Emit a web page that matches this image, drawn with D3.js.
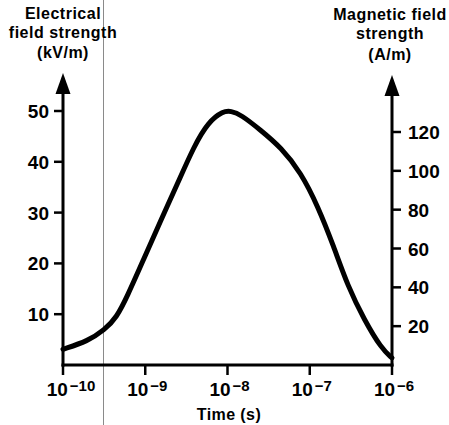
<!DOCTYPE html>
<html>
<head>
<meta charset="utf-8">
<script src="https://cdn.jsdelivr.net/npm/d3@7"></script>
<style>
	body { margin: 0; background: #fff; }
	svg text { font-family: "Liberation Sans", Arial, Helvetica, sans-serif; font-weight: bold; fill: #000; }
</style>
</head>
<body>
<svg id="chart" width="449" height="425"></svg>
<script>

// Data

var timeSeconds = [1e-10, 2e-10, 3.2e-10, 4.5e-10, 6e-10, 9.5e-10, 1.5e-9, 2.5e-9, 3.9e-9, 5.8e-9, 8.9e-9,
	1.1e-8, 1.45e-8, 2.5e-8, 4.5e-8, 7.8e-8, 1.26e-7, 1.95e-7, 2.9e-7, 4.6e-7, 7.4e-7, 1e-6];
var fieldKV = [3.1, 4.7, 6.9, 9.4, 13.4, 20.7, 28.0, 35.9, 43.0, 47.8, 50.0,
	50.0, 49.3, 46.3, 42.8, 37.9, 31.2, 23.4, 15.5, 8.9, 3.3, 1.4];

var xTicks = [1e-10, 1e-9, 1e-8, 1e-7, 1e-6];
var xTickExponents = ["\u221210", "\u22129", "\u22128", "\u22127", "\u22126"];
var leftTicks = [10, 20, 30, 40, 50];
var rightTicks = [20, 40, 60, 80, 100, 120];

var leftTitle = ["Electrical", "field strength", "(kV/m)"];
var rightTitle = ["Magnetic field", "strength", "(A/m)"];
var xTitle = "Time (s)";

// Scales

var svg = d3.select("#chart");

var x = d3.scaleLog().domain([1e-10, 1e-6]).range([63, 392]);
var yLeft = d3.scaleLinear().domain([0, 50]).range([365, 111]);
var yRight = d3.scaleLinear().domain([0, 120]).range([365, 132]);

// scan artefact: thin grey vertical line
svg.append("line")
	.attr("x1", 103.5).attr("x2", 103.5)
	.attr("y1", 0).attr("y2", 425)
	.style("stroke", "#8a8a8a")
	.style("stroke-width", 1);

// Axes

var axisStroke = 3;

// bottom axis
svg.append("line")
	.attr("x1", x.range()[0] - 1.5).attr("x2", x.range()[1] + 1.5)
	.attr("y1", 365).attr("y2", 365)
	.style("stroke", "#000").style("stroke-width", axisStroke);

svg.selectAll(".xtick")
	.data(xTicks)
	.enter().append("line")
	.attr("class", "xtick")
	.attr("x1", function (d) { return x(d); })
	.attr("x2", function (d) { return x(d); })
	.attr("y1", 365).attr("y2", 375)
	.style("stroke", "#000").style("stroke-width", 2.5);

var xLabels = svg.selectAll(".xlabel")
	.data(xTicks)
	.enter().append("text")
	.attr("class", "xlabel")
	.attr("x", function (d) { return x(d) + (d === 1e-10 ? 8 : 2); })
	.attr("y", 396)
	.attr("text-anchor", "middle")
	.style("font-size", "19px");

xLabels.append("tspan").text("10");
xLabels.append("tspan")
	.attr("dx", 2)
	.attr("dy", -5)
	.style("font-size", "15px")
	.text(function (d, i) { return xTickExponents[i]; });

svg.append("text")
	.attr("x", 229)
	.attr("y", 420)
	.attr("text-anchor", "middle")
	.style("font-size", "16px")
	.style("letter-spacing", "0.4px")
	.text(xTitle);

// vertical axes with arrowheads
function drawVerticalAxis(xPos, tipY, scale, ticks, side) {

	svg.append("line")
		.attr("x1", xPos).attr("x2", xPos)
		.attr("y1", 366.5).attr("y2", tipY + 12)
		.style("stroke", "#000").style("stroke-width", axisStroke);

	svg.append("path")
		.attr("d", "M" + xPos + "," + tipY + "L" + (xPos + 7.5) + "," + (tipY + 21) + "L" + (xPos - 7.5) + "," + (tipY + 21) + "Z")
		.style("fill", "#000");

	svg.selectAll(".tick-" + side)
		.data(ticks)
		.enter().append("line")
		.attr("class", "tick-" + side)
		.attr("x1", xPos)
		.attr("x2", xPos + (side === "left" ? -9 : 9))
		.attr("y1", function (d) { return scale(d); })
		.attr("y2", function (d) { return scale(d); })
		.style("stroke", "#000").style("stroke-width", 2.5);

	svg.selectAll(".label-" + side)
		.data(ticks)
		.enter().append("text")
		.attr("class", "label-" + side)
		.attr("x", side === "left" ? xPos - 14 : xPos + 16)
		.attr("y", function (d) { return scale(d) + 7; })
		.attr("text-anchor", side === "left" ? "end" : "start")
		.style("font-size", "19px")
		.text(function (d) { return d; });
}

drawVerticalAxis(63, 73, yLeft, leftTicks, "left");
drawVerticalAxis(392, 75, yRight, rightTicks, "right");

// axis titles
function drawTitle(lines, cx, baselines) {
	svg.selectAll(null)
		.data(lines)
		.enter().append("text")
		.attr("x", cx)
		.attr("y", function (d, i) { return baselines[i]; })
		.attr("text-anchor", "middle")
		.style("font-size", "16px")
		.style("letter-spacing", "0.5px")
		.text(function (d) { return d; });
}

drawTitle(leftTitle, 63, [19, 38, 58]);
drawTitle(rightTitle, 390, [20, 39, 60]);

// Curve

var line = d3.line()
	.x(function (d, i) { return x(timeSeconds[i]); })
	.y(function (d) { return yLeft(d); })
	.curve(d3.curveBasis);

svg.append("path")
	.datum(fieldKV)
	.attr("d", line)
	.style("fill", "none")
	.style("stroke", "#000")
	.style("stroke-width", 5)
	.style("stroke-linecap", "round");

</script>
</body>
</html>
